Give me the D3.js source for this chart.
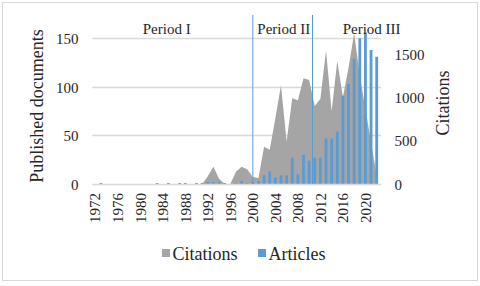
<!DOCTYPE html>
<html>
<head>
<meta charset="utf-8">
<script src="https://cdn.jsdelivr.net/npm/d3@7"></script>
<style>
    body { margin: 0; background: #fff; }
</style>
</head>
<body>
<div id="my_dataviz"></div>
<script>
// years on the x axis
var years = d3.range(1972, 2023);

// published articles per year (left axis)
var articles = [0, 1, 0, 0, 0, 0, 0, 0, 0, 0,
    0, 1, 0, 1, 0, 1, 1, 0, 1, 1,
    2, 2, 2, 1, 0, 1, 3, 1, 2, 3,
    9, 13, 7, 9, 9, 27, 10, 30, 24, 27,
    27, 47, 47, 54, 91, 103, 129, 150, 156, 138,
    131];

// citations per year (right axis)
var citations = [0, 0, 0, 0, 0, 0, 0, 0, 0, 0,
    0, 0, 0, 0, 0, 0, 0, 0, 0, 0,
    90, 200, 60, 0, 0, 140, 200, 170, 80, 70,
    430, 395, 760, 1140, 490, 990, 965, 1220, 1200, 900,
    985, 1540, 840, 1420, 1000, 1340, 1740, 1250, 870, 480,
    100];

var leftTicks = [0, 50, 100, 150];
var rightTicks = [0, 500, 1000, 1500];
var periodNames = ["Period I", "Period II", "Period III"];

var data = years.map(function (y, i) {
    return { year: y, articles: articles[i], citations: citations[i] };
});

var FONT = "'Liberation Serif'";

// set the dimensions of the drawing
var W = 480, H = 286;
var plotLeft = 92.4, plotRight = 379.5, plotTop = 15, plotBottom = 184;

var svg = d3.select("#my_dataviz")
    .append("svg")
    .attr("width", W)
    .attr("height", H);

// chart border
svg.append("rect")
    .attr("x", 2.5).attr("y", 2.5)
    .attr("width", 475).attr("height", 278)
    .attr("fill", "#fff")
    .attr("stroke", "#d9d9d9");

var x = d3.scaleBand()
    .domain(years)
    .range([plotLeft, plotRight])
    .paddingInner(0.5)
    .paddingOuter(0.25);

var step = (plotRight - plotLeft) / years.length;
function cx(yr) { return plotLeft + step * (yr - 1972 + 0.5); }

var yLeft = d3.scaleLinear().domain([0, 174]).range([plotBottom, plotTop]);
var yRight = d3.scaleLinear().domain([0, 1950]).range([plotBottom, plotTop]);

// gridlines
svg.append("g")
    .selectAll("line")
    .data(leftTicks.slice(1))
    .enter().append("line")
    .attr("x1", plotLeft).attr("x2", plotRight + 1.5)
    .attr("y1", function (d) { return Math.round(yLeft(d)) + 0.5; })
    .attr("y2", function (d) { return Math.round(yLeft(d)) + 0.5; })
    .attr("stroke", "#d9d9d9")
    .attr("stroke-width", 1.3);

// citations area
svg.append("path")
    .datum(data)
    .attr("fill", "#a5a5a5")
    .attr("d", d3.area()
        .x(function (d) { return cx(d.year); })
        .y0(yRight(0))
        .y1(function (d) { return yRight(d.citations); })
    );

// articles bars
svg.append("g")
    .selectAll("rect")
    .data(data)
    .enter().append("rect")
    .attr("x", function (d) { return x(d.year); })
    .attr("width", x.bandwidth())
    .attr("y", function (d) { return yLeft(d.articles); })
    .attr("height", function (d) { return yLeft(0) - yLeft(d.articles); })
    .attr("fill", "#5b9bd5");

// baseline
svg.append("line")
    .attr("x1", plotLeft).attr("x2", plotRight + 1.5)
    .attr("y1", plotBottom + 0.5).attr("y2", plotBottom + 0.5)
    .attr("stroke", "#d9d9d9")
    .attr("stroke-width", 1.3);

// period separators
var bounds = [2000, 2010.6];
svg.append("g")
    .selectAll("line")
    .data(bounds)
    .enter().append("line")
    .attr("x1", function (d) { return cx(d); })
    .attr("x2", function (d) { return cx(d); })
    .attr("y1", plotTop)
    .attr("y2", plotBottom)
    .attr("stroke", "#5b9bd5")
    .attr("stroke-width", 1);

// period labels
var labelYears = [1984.7, 2005.5, 2021.1];
svg.append("g")
    .selectAll("text")
    .data(periodNames)
    .enter().append("text")
    .attr("x", function (d, i) { return cx(labelYears[i]); })
    .attr("y", 34)
    .attr("text-anchor", "middle")
    .style("font-size", "15px")
    .text(function (d) { return d; });

// left axis
var leftAxis = svg.append("g")
    .attr("transform", "translate(" + plotLeft + ",0)")
    .call(d3.axisLeft(yLeft).tickValues(leftTicks).tickFormat(d3.format("d")).tickSize(0).tickPadding(14));
leftAxis.select(".domain").remove();
leftAxis.selectAll("text").style("font-size", "15px").attr("dy", "0.35em");

// right axis
var rightAxis = svg.append("g")
    .attr("transform", "translate(" + plotRight + ",0)")
    .call(d3.axisRight(yRight).tickValues(rightTicks).tickFormat(d3.format("d")).tickSize(0).tickPadding(15));
rightAxis.select(".domain").remove();
rightAxis.selectAll("text").style("font-size", "15px").attr("dy", "0.35em");

// x axis
var xAxis = svg.append("g")
    .attr("transform", "translate(0," + plotBottom + ")")
    .call(d3.axisBottom(x)
        .tickValues(years.filter(function (d) { return (d - 1972) % 4 == 0; }))
        .tickSize(0));
xAxis.select(".domain").remove();
xAxis.selectAll("text")
    .style("font-size", "15px")
    .style("text-anchor", "end")
    .attr("transform", "rotate(-90)")
    .attr("x", -9)
    .attr("y", 0)
    .attr("dy", "0.35em");

// axis titles
svg.append("text")
    .attr("transform", "translate(43,106) rotate(-90)")
    .attr("text-anchor", "middle")
    .style("font-size", "18px")
    .text("Published documents");

svg.append("text")
    .attr("transform", "translate(449,103) rotate(-90)")
    .attr("text-anchor", "middle")
    .style("font-size", "18px")
    .text("Citations");

// legend
var legend = [{ name: "Citations", color: "#a5a5a5", x: 162 }, { name: "Articles", color: "#5b9bd5", x: 258 }];
var lg = svg.append("g")
    .selectAll("g")
    .data(legend)
    .enter().append("g")
    .attr("transform", function (d) { return "translate(" + d.x + ",249)"; });
lg.append("rect")
    .attr("width", 8).attr("height", 8)
    .attr("fill", function (d) { return d.color; });
lg.append("text")
    .attr("x", 10.5)
    .attr("y", 11)
    .style("font-size", "18px")
    .text(function (d) { return d.name; });

// one font for every label
svg.selectAll("g").attr("font-family", null);
svg.selectAll("text")
    .style("font-family", FONT)
    .style("fill", "#262626");
</script>
</body>
</html>
